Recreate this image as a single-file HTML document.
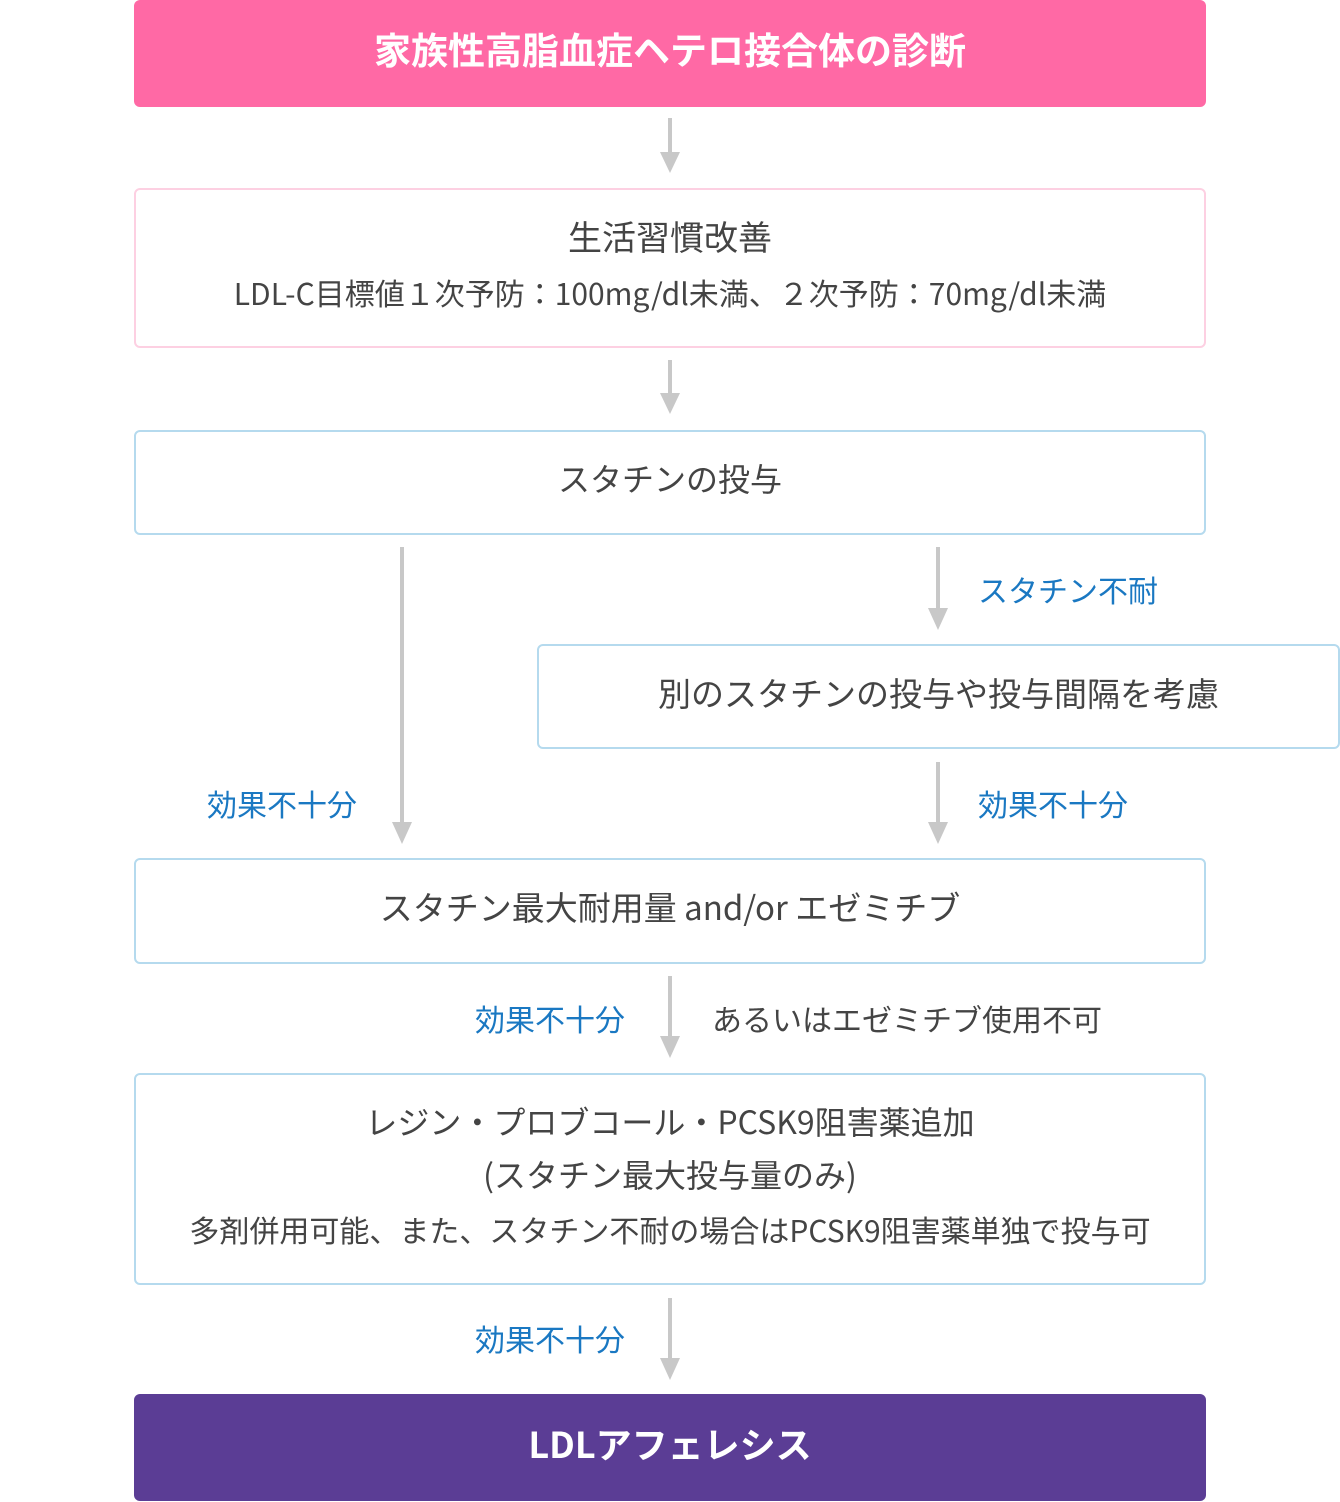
<!DOCTYPE html>
<html><head><meta charset="utf-8"><style>
body{margin:0;width:1340px;height:1502px;background:#fff;position:relative;overflow:hidden;font-family:"Noto Sans CJK JP","Liberation Sans",sans-serif;color:#444}
.b{position:absolute;box-sizing:border-box;border-radius:6px}
.t{position:absolute;left:0;right:0;text-align:center;white-space:nowrap;line-height:1}
.l{position:absolute;white-space:nowrap;line-height:1;font-size:30px;color:#1a78c2}
svg{position:absolute;left:0;top:0}
</style></head><body>
<div class="b" style="left:134px;top:0;width:1072px;height:107px;background:#ff69a5"></div>
<div class="t" style="left:134px;width:1072px;top:30px;font-size:37px;font-weight:bold;color:#fff">家族性高脂血症ヘテロ接合体の診断</div>

<div class="b" style="left:134px;top:188px;width:1072px;height:160px;border:2px solid #fdd0e2"></div>
<div class="t" style="left:134px;width:1072px;top:219px;font-size:34px">生活習慣改善</div>
<div class="t" style="left:134px;width:1072px;top:277px;font-size:30px">LDL-C目標値１次予防：100mg/dl未満、２次予防：70mg/dl未満</div>

<div class="b" style="left:134px;top:430px;width:1072px;height:105px;border:2px solid #b5daee"></div>
<div class="t" style="left:134px;width:1072px;top:462px;font-size:32px">スタチンの投与</div>

<div class="b" style="left:537px;top:644px;width:803px;height:105px;border:2px solid #b5daee"></div>
<div class="t" style="left:537px;width:803px;top:676px;font-size:33px">別のスタチンの投与や投与間隔を考慮</div>

<div class="b" style="left:134px;top:858px;width:1072px;height:106px;border:2px solid #b5daee"></div>
<div class="t" style="left:134px;width:1072px;top:890px;font-size:33px">スタチン最大耐用量 and/or エゼミチブ</div>

<div class="b" style="left:134px;top:1073px;width:1072px;height:212px;border:2px solid #b5daee"></div>
<div class="t" style="left:134px;width:1072px;top:1105px;font-size:32px">レジン・プロブコール・PCSK9阻害薬追加</div>
<div class="t" style="left:134px;width:1072px;top:1158px;font-size:32px">(スタチン最大投与量のみ)</div>
<div class="t" style="left:134px;width:1072px;top:1214px;font-size:30px">多剤併用可能、また、スタチン不耐の場合はPCSK9阻害薬単独で投与可</div>

<div class="b" style="left:134px;top:1394px;width:1072px;height:107px;background:#5b3d95"></div>
<div class="t" style="left:134px;width:1072px;top:1425px;font-size:36px;font-weight:bold;color:#fff">LDLアフェレシス</div>

<div class="l" style="left:978px;top:574px">スタチン不耐</div>
<div class="l" style="left:207px;top:788px">効果不十分</div>
<div class="l" style="left:978px;top:788px">効果不十分</div>
<div class="l" style="left:475px;top:1003px">効果不十分</div>
<div class="l" style="left:712px;top:1003px;color:#444">あるいはエゼミチブ使用不可</div>
<div class="l" style="left:475px;top:1323px">効果不十分</div>

<svg width="1340" height="1502">
<g stroke="#c8c8c8" stroke-width="4" fill="#c8c8c8">
<line x1="670" y1="118" x2="670" y2="160"/><polygon stroke="none" points="660,152 680,152 670,173"/>
<line x1="670" y1="360" x2="670" y2="400"/><polygon stroke="none" points="660,393 680,393 670,414"/>
<line x1="402" y1="547" x2="402" y2="830"/><polygon stroke="none" points="392,822 412,822 402,844"/>
<line x1="938" y1="547" x2="938" y2="616"/><polygon stroke="none" points="928,608 948,608 938,630"/>
<line x1="938" y1="762" x2="938" y2="830"/><polygon stroke="none" points="928,822 948,822 938,844"/>
<line x1="670" y1="976" x2="670" y2="1044"/><polygon stroke="none" points="660,1036 680,1036 670,1058"/>
<line x1="670" y1="1298" x2="670" y2="1366"/><polygon stroke="none" points="660,1358 680,1358 670,1380"/>
</g></svg>
</body></html>
